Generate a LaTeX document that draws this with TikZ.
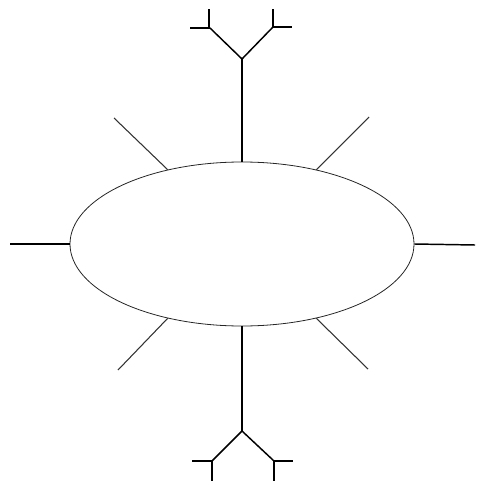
\documentclass[tikz,border=0pt]{standalone}
\usetikzlibrary{shapes.geometric}
\begin{document}
\begin{tikzpicture}[x=0.75pt,y=-0.75pt,
  body/.style={draw=black!85,line width=0.6pt,ellipse,minimum width=258pt,minimum height=123pt,inner sep=0pt},
  stem/.style={draw=black,line width=1.1pt},
  spoke/.style={draw=black!80,line width=0.8pt}]
\useasboundingbox (0,0) rectangle (476,481);
\node[body] (e) at (242,244) {};
% spokes
\coordinate (w) at (10,244);
\coordinate (ea) at (475,245);
\coordinate (ul) at (114,118);
\coordinate (ur) at (369,117);
\coordinate (ll) at (118,370);
\coordinate (lr) at (368,369);
\draw[stem] (e.west) -- (w);
\draw[stem] (e.east) -- (ea);
\draw[spoke] (e.135) -- (ul);
\draw[spoke] (e.45) -- (ur);
\draw[spoke] (e.225) -- (ll);
\draw[spoke] (e.315) -- (lr);
% top antenna
\coordinate (tj) at (242,59);
\coordinate (tl) at (210,28);
\coordinate (tr) at (273,27);
\coordinate (tlh) at (190,28);
\coordinate (tlv) at (209,9);
\coordinate (tlv0) at (209,28);
\coordinate (trv) at (273,9);
\coordinate (trh) at (292,27);
\draw[stem] (e.north) -- (tj);
\draw[stem] (tl) -- (tj) -- (tr);
\draw[stem] (tlh) -- (tl);
\draw[stem] (tlv0) -- (tlv);
\draw[stem] (tr) -- (trv);
\draw[stem] (tr) -- (trh);
% bottom antenna
\coordinate (bj) at (242,431);
\coordinate (bl) at (212,461);
\coordinate (br) at (274,461);
\coordinate (blh) at (192,461);
\coordinate (blv) at (212,481);
\coordinate (brv) at (274,481);
\coordinate (brh) at (293,461);
\draw[stem] (e.south) -- (bj);
\draw[stem] (bl) -- (bj) -- (br);
\draw[stem] (blh) -- (bl) -- (blv);
\draw[stem] (brv) -- (br) -- (brh);
\end{tikzpicture}
\end{document}
